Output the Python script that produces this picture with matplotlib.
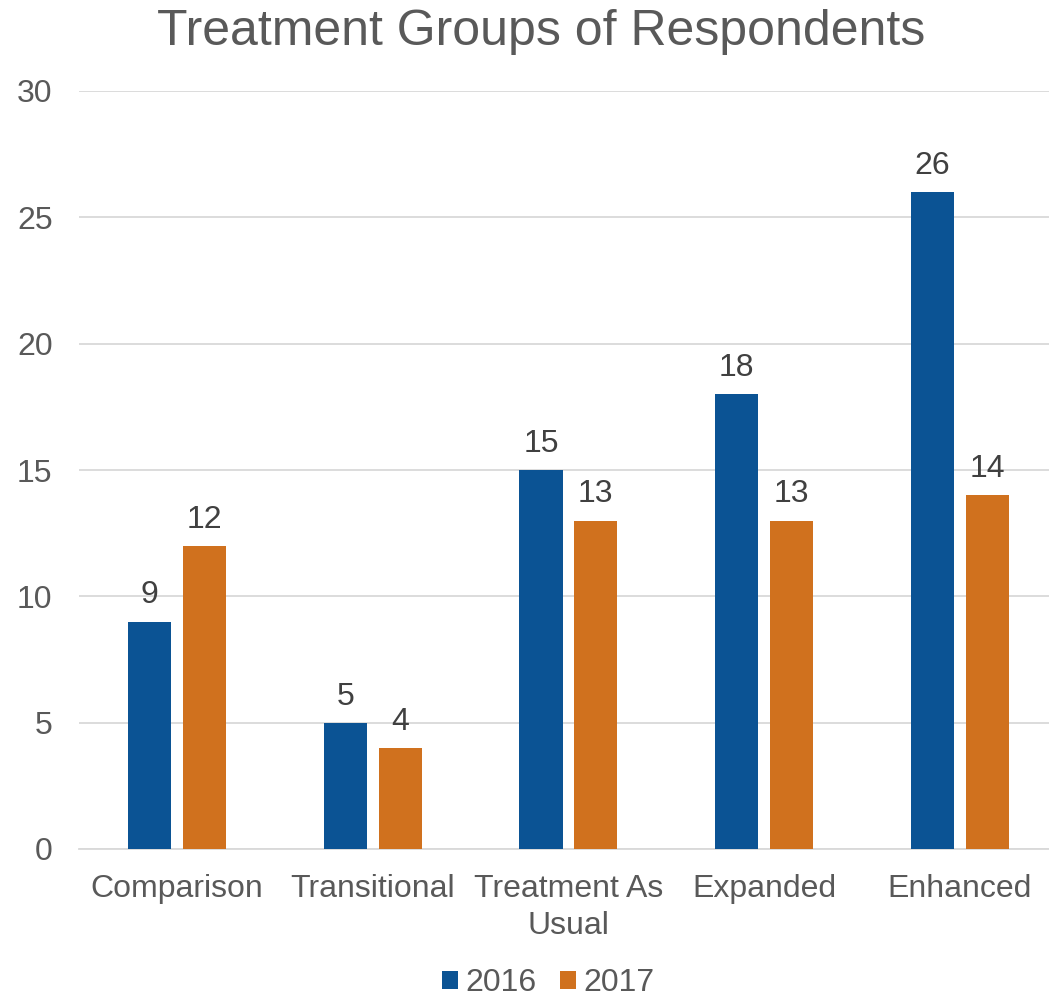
import matplotlib
matplotlib.use('Agg')
import matplotlib.pyplot as plt
import numpy as np

plt.rcParams['font.family'] = ['Liberation Sans', 'DejaVu Sans']

categories = ['Comparison', 'Transitional', 'Treatment As\nUsual', 'Expanded', 'Enhanced']
years = ['2016', '2017']
values_2016 = [9, 5, 15, 18, 26]
values_2017 = [12, 4, 13, 13, 14]
colors = ['#0B5394', '#D0711E']

fig = plt.figure(figsize=(10.49, 9.99), dpi=100)
ax = fig.add_axes([79 / 1049, 1 - 849 / 999, 1 - 79 / 1049, (849 - 91) / 999])

x = np.arange(len(categories))
width = 0.22
offset = 0.14
bars1 = ax.bar(x - offset, values_2016, width, color=colors[0], label=years[0], zorder=3)
bars2 = ax.bar(x + offset, values_2017, width, color=colors[1], label=years[1], zorder=3)

# value labels above each bar
for bars in (bars1, bars2):
    ax.bar_label(bars, padding=8, fontsize=23, color='#404040')

ax.set_xlim(-0.5, 4.455)
ax.set_ylim(0, 30)
ax.set_yticks(range(0, 31, 5))
ax.set_xticks(x)
ax.set_xticklabels(categories, fontsize=23, color='#595959', linespacing=1.3)
ax.tick_params(axis='y', labelsize=23, labelcolor='#595959', length=0, pad=19)
ax.tick_params(axis='x', length=0, pad=18)
ax.grid(axis='y', color='#D9D9D9', linewidth=1.3, zorder=0)
for side in ('top', 'right', 'left'):
    ax.spines[side].set_visible(False)
ax.spines['bottom'].set_color('#D9D9D9')
ax.spines['bottom'].set_linewidth(1.3)

fig.text(541 / 1049, 1 - 45 / 999, 'Treatment Groups of Respondents', fontsize=36,
         color='#595959', ha='center', va='baseline')

fig.legend(handles=[bars1, bars2], labels=years, loc='center', bbox_to_anchor=(548 / 1049, 1 - 983 / 999),
           ncol=2, frameon=False, fontsize=23, labelcolor='#595959', handlelength=0.5,
           handleheight=0.5, handletextpad=0.22, columnspacing=0.75)

fig.savefig('out.png', dpi=100)
